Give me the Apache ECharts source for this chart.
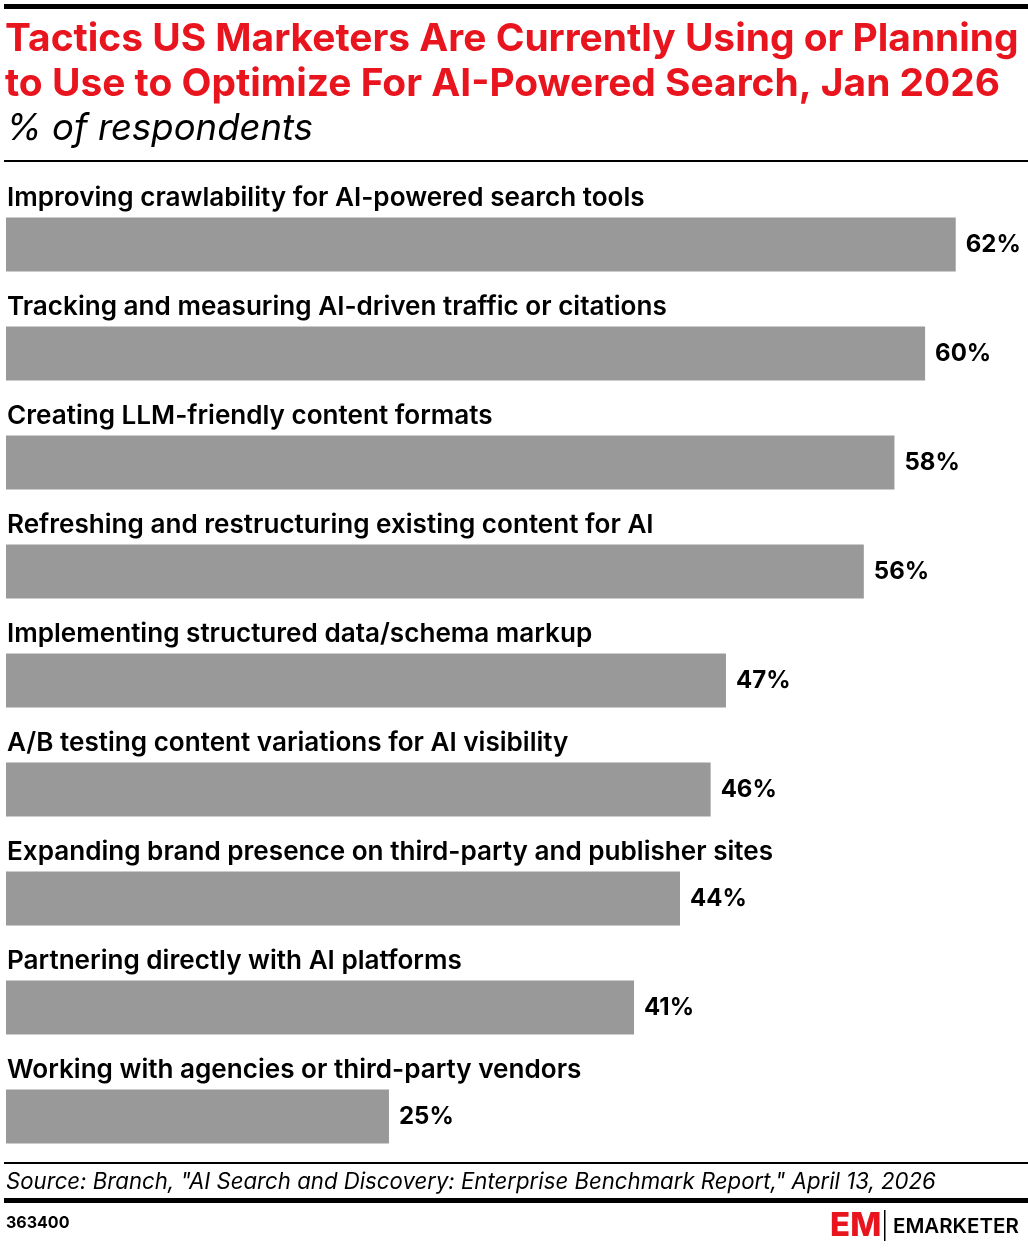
<!DOCTYPE html>
<html>
<head>
<meta charset="utf-8">
<script src="https://cdn.jsdelivr.net/npm/echarts@6/dist/echarts.min.js"></script>
<style>
  html, body { margin: 0; padding: 0; background: #fff; }
  #chart { width: 1028px; height: 1248px; }
</style>
</head>
<body>
<div id="chart"></div>
<script>
// tactics, top to bottom
var categories = [
    'Improving crawlability for AI-powered search tools',
    'Tracking and measuring AI-driven traffic or citations',
    'Creating LLM-friendly content formats',
    'Refreshing and restructuring existing content for AI',
    'Implementing structured data/schema markup',
    'A/B testing content variations for AI visibility',
    'Expanding brand presence on third-party and publisher sites',
    'Partnering directly with AI platforms',
    'Working with agencies or third-party vendors'
];
var values = [62, 60, 58, 56, 47, 46, 44, 41, 25];

var titleLines = [
    'Tactics US Marketers Are Currently Using or Planning',
    'to Use to Optimize For AI-Powered Search, Jan 2026'
];
var subtitle = '% of respondents';
var sourceText = 'Source: Branch, "AI Search and Discovery: Enterprise Benchmark Report," April 13, 2026';
var chartId = '363400';

var FONT = 'Inter, "Noto Sans", sans-serif';
var RED = '#e8141e';

var option = {
    animation: false,
    backgroundColor: '#fff',
    grid: {
        left: 6,
        top: 190,
        width: 1011,
        height: 981
    },
    xAxis: {
        type: 'value',
        min: 0,
        max: 66,
        show: false
    },
    yAxis: {
        type: 'category',
        data: categories,
        inverse: true,
        axisLine: { show: false },
        axisTick: { show: false },
        splitLine: { show: false },
        axisLabel: {
            inside: true,
            margin: 1,
            align: 'left',
            verticalAlign: 'bottom',
            lineHeight: 30,
            padding: [0, 0, 31, 0],
            fontFamily: FONT,
            fontSize: 26.1,
            fontWeight: 600,
            color: '#000'
        },
        z: 10
    },
    series: [{
        type: 'bar',
        data: values,
        barWidth: 54,
        itemStyle: { color: '#999999' },
        label: {
            show: true,
            position: 'right',
            distance: 10,
            formatter: '{c}%',
            fontFamily: FONT,
            fontSize: 24,
            fontWeight: 700,
            color: '#000'
        }
    }],
    graphic: [
        // top heavy rule
        { type: 'rect', shape: { x: 4, y: 4, width: 1024, height: 5 }, style: { fill: '#000' } },
        {
            type: 'text', x: 5, y: 39,
            style: { text: titleLines[0], fontFamily: FONT, fontSize: 38.9, fontWeight: 700, fill: RED, verticalAlign: 'middle' }
        },
        {
            type: 'text', x: 5, y: 84,
            style: { text: titleLines[1], fontFamily: FONT, fontSize: 38.9, fontWeight: 700, fill: RED, verticalAlign: 'middle' }
        },
        {
            type: 'text', x: 6, y: 129,
            style: { text: subtitle, fontFamily: FONT, fontSize: 36.5, fontStyle: 'italic', fontWeight: 400, fill: '#000', verticalAlign: 'middle' }
        },
        { type: 'rect', shape: { x: 4, y: 160, width: 1024, height: 2 }, style: { fill: '#000' } },

        // footer
        { type: 'rect', shape: { x: 4, y: 1162, width: 1024, height: 2 }, style: { fill: '#000' } },
        {
            type: 'text', x: 6, y: 1182,
            style: { text: sourceText, fontFamily: FONT, fontSize: 22.2, fontStyle: 'italic', fill: '#000', verticalAlign: 'middle' }
        },
        { type: 'rect', shape: { x: 4, y: 1198, width: 1024, height: 5 }, style: { fill: '#000' } },
        {
            type: 'text', x: 6, y: 1223,
            style: { text: chartId, fontFamily: FONT, fontSize: 16, fontWeight: 700, fill: '#000', verticalAlign: 'middle' }
        },
        {
            type: 'text', x: 830, y: 1226,
            style: { text: 'EM', fontFamily: FONT, fontSize: 33, fontWeight: 800, fill: RED, verticalAlign: 'middle' }
        },
        { type: 'rect', shape: { x: 884, y: 1210, width: 1.5, height: 31 }, style: { fill: '#000' } },
        {
            type: 'text', x: 893, y: 1227,
            style: { text: 'EMARKETER', fontFamily: FONT, fontSize: 20.5, fontWeight: 600, fill: '#000', verticalAlign: 'middle' }
        }
    ]
};

var chart = echarts.init(document.getElementById('chart'));
chart.setOption(option);
</script>
</body>
</html>
